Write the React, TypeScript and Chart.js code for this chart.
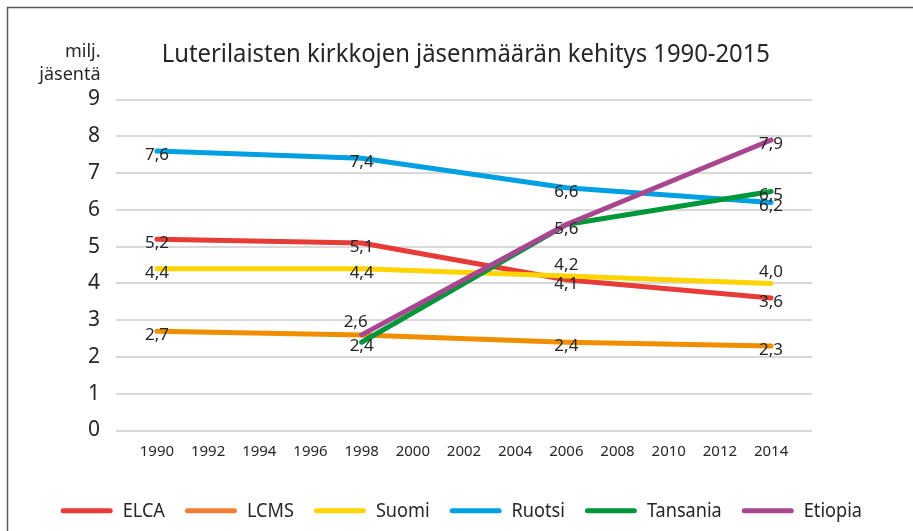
import React, { useEffect, useRef } from "react";
import { Chart, registerables } from "chart.js";

Chart.register(...registerables);

const titleText = "Luterilaisten kirkkojen jäsenmäärän kehitys 1990-2015";
const yAxisTitle = ["milj.", "jäsentä"];
const years = [1990, 1998, 2006, 2014];
const tickYears = [1990, 1992, 1994, 1996, 1998, 2000, 2002, 2004, 2006, 2008, 2010, 2012, 2014];
const yTicks = [0, 1, 2, 3, 4, 5, 6, 7, 8, 9];
const seriesNames = ["ELCA", "LCMS", "Suomi", "Ruotsi", "Tansania", "Etiopia"];
const elca = [5.2, 5.1, 4.1, 3.6];
const lcms = [2.7, 2.6, 2.4, 2.3];
const suomi = [4.4, 4.4, 4.2, 4.0];
const ruotsi = [7.6, 7.4, 6.6, 6.2];
const tansania = [null, 2.4, 5.6, 6.5];
const etiopia = [null, 2.6, 5.6, 7.9];
const seriesValues = [elca, lcms, suomi, ruotsi, tansania, etiopia];

const lineColors = ["#E63B37", "#F18E00", "#FFD400", "#00A0E2", "#00963A", "#A8468F"];
const legendColors = ["#E63B37", "#EE7F35", "#FFD400", "#00A0E2", "#00963A", "#A8468F"];

// label placement per series/point: c = centred on point, a = above, al = above-left, n = none
const labelPlacement = [
  ["c", "c", "c", "c"],
  ["c", "n", "c", "c"],
  ["c", "c", "a", "a"],
  ["c", "c", "c", "c"],
  ["n", "c", "c", "c"],
  ["n", "al", "n", "c"],
];

const FONT = "'Noto Sans', sans-serif";
const TEXT = "#262626";

const fmt = (v: number) => v.toFixed(1).replace(".", ",");

const decorPlugin = {
  id: "decor",
  afterDatasetsDraw(chart: any) {
    const ctx = chart.ctx;
    ctx.save();
    ctx.font = `17px ${FONT}`;
    ctx.fillStyle = TEXT;
    ctx.textAlign = "center";
    ctx.textBaseline = "alphabetic";
    seriesValues.forEach((vals, i) => {
      const meta = chart.getDatasetMeta(i);
      vals.forEach((v, j) => {
        const p = labelPlacement[i][j];
        if (v == null || p === "n") return;
        const el = meta.data[j];
        if (!el) return;
        let x = el.x;
        let y = el.y + 9;
        if (p === "a") y = el.y - 6;
        if (p === "al") {
          y = el.y - 8;
          x = el.x - 6;
        }
        ctx.fillText(fmt(v as number), x, y);
      });
    });
    ctx.restore();
  },
  afterDraw(chart: any) {
    const ctx = chart.ctx;
    ctx.save();
    // frame
    ctx.strokeStyle = "#5a5a5a";
    ctx.lineWidth = 1.5;
    ctx.beginPath();
    ctx.moveTo(7.5, 531);
    ctx.lineTo(7.5, 7.5);
    ctx.lineTo(913, 7.5);
    ctx.stroke();

    // title
    ctx.fillStyle = TEXT;
    ctx.font = `26px ${FONT}`;
    ctx.textAlign = "left";
    ctx.textBaseline = "alphabetic";
    const tw = ctx.measureText(titleText).width;
    const sx = (770 - 161.7) / tw;
    ctx.save();
    ctx.translate(161.7, 61.7);
    ctx.scale(sx, 1);
    ctx.fillText(titleText, 0, 0);
    ctx.restore();

    // y axis title
    ctx.font = `18px ${FONT}`;
    ctx.textAlign = "right";
    ctx.fillText(yAxisTitle[0], 100.5, 56.7);
    ctx.fillText(yAxisTitle[1], 100.5, 80);

    // legend
    ctx.font = `20px ${FONT}`;
    ctx.textAlign = "left";
    const sample = 52;
    const gapText = 10;
    const gapItem = 20;
    const legendLeft = 60.7;
    const legendRight = 862;
    const rawWidths = seriesNames.map((n) => ctx.measureText(n).width);
    const rawSum = rawWidths.reduce((a, w) => a + w, 0);
    const fixed = seriesNames.length * (sample + gapText) + gapItem * (seriesNames.length - 1);
    const ts = (legendRight - legendLeft - fixed) / rawSum;
    let x = legendLeft;
    const ly = 510.7;
    seriesNames.forEach((n, i) => {
      ctx.strokeStyle = legendColors[i];
      ctx.lineWidth = 5;
      ctx.lineCap = "round";
      ctx.beginPath();
      ctx.moveTo(x + 2.5, ly);
      ctx.lineTo(x + sample - 2.5, ly);
      ctx.stroke();
      ctx.fillStyle = TEXT;
      ctx.save();
      ctx.translate(x + sample + gapText, 517.3);
      ctx.scale(ts, 1);
      ctx.fillText(n, 0, 0);
      ctx.restore();
      x += sample + gapText + rawWidths[i] * ts + gapItem;
    });
    ctx.restore();
  },
};

export default function App() {
  const ref = useRef<HTMLCanvasElement | null>(null);

  useEffect(() => {
    if (!ref.current) return;
    const datasets = seriesValues.map((vals, i) => ({
      label: seriesNames[i],
      data: years.map((yr, j) => ({ x: yr, y: vals[j] })),
      borderColor: lineColors[i],
      backgroundColor: lineColors[i],
      borderWidth: 5,
      borderCapStyle: "round" as const,
      borderJoinStyle: "round" as const,
      pointRadius: 0,
      pointHoverRadius: 0,
      tension: 0,
      fill: false,
      order: seriesNames.length - i,
    }));

    const chart = new Chart(ref.current, {
      type: "line",
      data: { datasets },
      options: {
        animation: false,
        responsive: false,
        devicePixelRatio: 1,
        layout: { padding: { left: 0, top: 99.5, right: 101, bottom: 0 } },
        plugins: {
          legend: { display: false },
          title: { display: false },
          tooltip: { enabled: false },
        },
        scales: {
          x: {
            type: "linear",
            min: 1988.4,
            max: 2015.6,
            afterBuildTicks: (scale: any) => {
              scale.ticks = tickYears.map((v) => ({ value: v }));
            },
            afterFit: (scale: any) => {
              scale.height = 100.5;
            },
            grid: { display: false, drawTicks: false },
            border: { display: false },
            ticks: {
              autoSkip: false,
              maxRotation: 0,
              padding: 12,
              color: TEXT,
              font: { family: "'Noto Sans', sans-serif", size: 15 },
              callback: (v: any) => String(v),
            },
          },
          y: {
            type: "linear",
            min: 0,
            max: 9,
            afterBuildTicks: (scale: any) => {
              scale.ticks = yTicks.map((v) => ({ value: v }));
            },
            afterFit: (scale: any) => {
              scale.width = 116;
            },
            grid: { color: "#d9d9d9", lineWidth: 2, drawTicks: false },
            border: { display: false },
            ticks: {
              padding: 16,
              color: TEXT,
              font: { family: "'Noto Sans', sans-serif", size: 21 },
              callback: (v: any) => String(v),
            },
          },
        },
      },
      plugins: [decorPlugin],
    });
    return () => chart.destroy();
  }, []);

  return (
    <div style={{ position: "fixed", left: 0, top: 0, width: 913, height: 531, background: "#fff" }}>
      <canvas ref={ref} width={913} height={531} style={{ display: "block" }} />
    </div>
  );
}
